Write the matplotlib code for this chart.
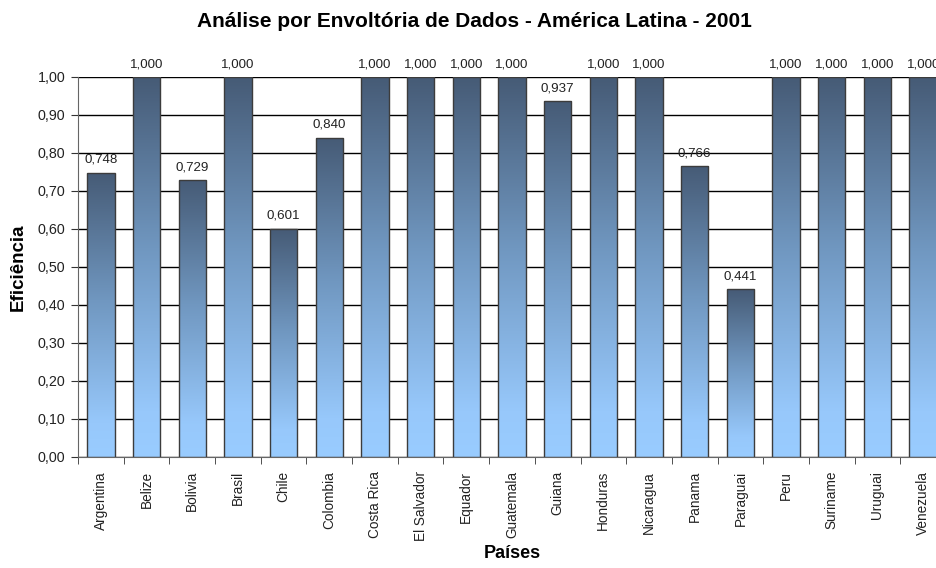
import numpy as np
import matplotlib.pyplot as plt
from matplotlib.colors import LinearSegmentedColormap
from matplotlib.ticker import FuncFormatter

plt.rcParams['font.family'] = ['Liberation Sans', 'DejaVu Sans']

paises = ['Argentina', 'Belize', 'Bolivia', 'Brasil', 'Chile', 'Colombia',
          'Costa Rica', 'El Salvador', 'Equador', 'Guatemala', 'Guiana',
          'Honduras', 'Nicaragua', 'Panama', 'Paraguai', 'Peru', 'Suriname',
          'Uruguai', 'Venezuela']
eficiencia = [0.748, 1.000, 0.729, 1.000, 0.601, 0.840, 1.000, 1.000, 1.000,
              1.000, 0.937, 1.000, 1.000, 0.766, 0.441, 1.000, 1.000, 1.000,
              1.000]

# degrade vertical: escuro no topo, azul claro na base
cmap = LinearSegmentedColormap.from_list(
    'barra', [(0.0, '#99ccff'), (0.12, '#97c8fb'), (0.55, '#7097c0'), (1.0, '#465b76')])

fig = plt.figure(figsize=(9.36, 5.68), dpi=100)
ax = fig.add_axes([78/936, 1 - 457/568, 868/936, 380/568])

x = np.arange(len(paises))
barras = ax.bar(x, eficiencia, width=0.6, color='none', edgecolor='#3c3c3c',
                linewidth=1.0, zorder=3)

grad = np.linspace(0, 1, 256).reshape(-1, 1)
for b in barras:
    x0, y0 = b.get_x(), b.get_y()
    w, h = b.get_width(), b.get_height()
    im = ax.imshow(grad, cmap=cmap, origin='lower', aspect='auto',
                   extent=[x0, x0 + w, y0, y0 + h], zorder=2)
    im.set_clip_path(b)

for xi, v in zip(x, eficiencia):
    ax.text(xi, v + 0.018, f'{v:.3f}'.replace('.', ','), ha='center', va='bottom',
            fontsize=9.6, color='#222222', clip_on=False)

ax.set_xlim(-0.5, len(paises) - 0.5)
ax.set_ylim(0, 1.0)
ax.set_yticks(np.arange(0, 1.01, 0.1))
ax.yaxis.set_major_formatter(FuncFormatter(lambda v, p: f'{v:.2f}'.replace('.', ',')))
ax.set_xticks(x)
ax.set_xticklabels(paises, rotation=90, fontsize=9.8, color='#222222')
ax.set_xticks(np.arange(-0.5, len(paises), 1), minor=True)
ax.tick_params(axis='x', which='major', length=0, pad=10)
ax.tick_params(axis='x', which='minor', length=5, color='#333333')
ax.tick_params(axis='y', length=5, color='#333333', pad=4, labelsize=10.3,
               labelcolor='#222222')

ax.yaxis.grid(True, color='black', linewidth=1.0, zorder=0)
ax.set_axisbelow(True)
for s in ['top', 'right']:
    ax.spines[s].set_visible(False)
for s in ['left', 'bottom']:
    ax.spines[s].set_color('#666666')

ax.set_ylabel('Eficiência', fontsize=13.5, fontweight='bold', va='center')
ax.yaxis.set_label_coords(-0.069, 0.5)
ax.set_xlabel('Países', fontsize=13, fontweight='bold', va='center')
ax.xaxis.set_label_coords(0.5, -0.253)
fig.text(0.507, 0.963, 'Análise por Envoltória de Dados - América Latina - 2001',
         ha='center', va='center', fontsize=15, fontweight='bold')

fig.savefig('out.png', dpi=100)
